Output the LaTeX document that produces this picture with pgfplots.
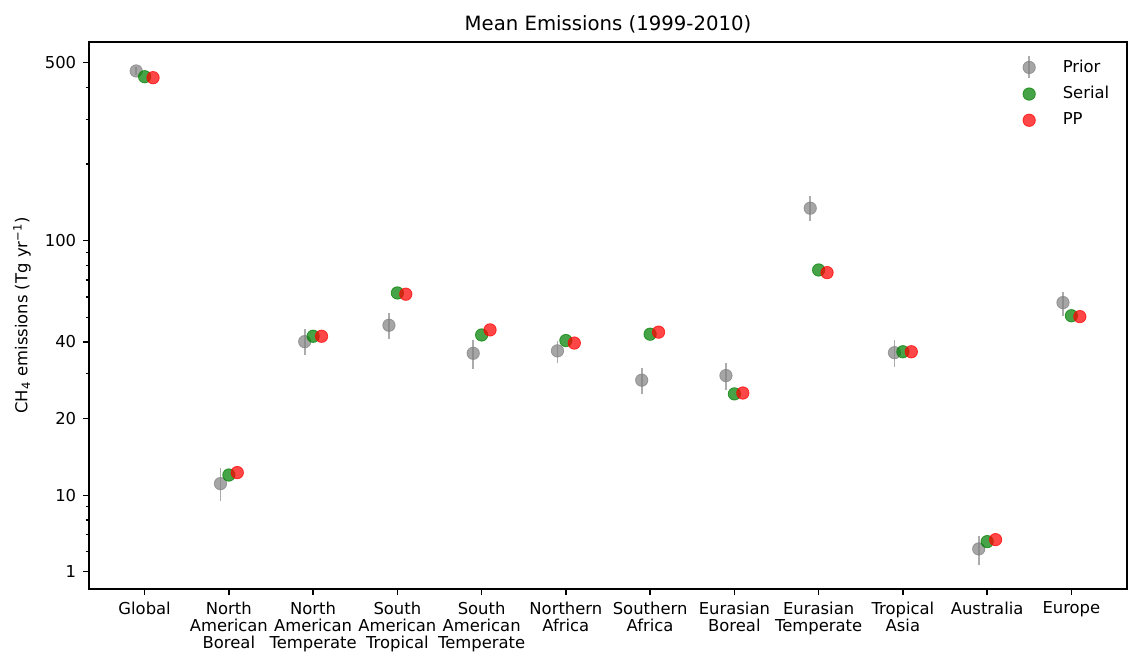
\documentclass[border=0pt]{standalone}
\usepackage{fontspec}
\setmainfont{DejaVu Sans}
\usepackage{pgfplots}
\pgfplotsset{compat=1.18}
\usepackage{pgfplotstable}
\definecolor{mplgray}{HTML}{808080}
\definecolor{mplgreen}{HTML}{008000}
\definecolor{mplred}{HTML}{FF0000}

\pgfplotstableread{
x y ep em
-0.1 464 15 15
0.9 11.1 1.66 1.6
1.9 40.1 4.8 4.5
2.9 46.5 5.6 5.5
3.9 36.1 4.6 4.8
4.9 36.9 3.5 3.9
5.9 28.3 3.2 3.3
6.9 29.5 3.7 3.7
7.9 134.1 15.7 14.6
8.9 36.3 4.4 4.5
9.9 6.15 0.79 0.83
10.9 57.1 5.9 6.5
}\prior

\pgfplotstableread{
x y
0 440.6
1 12.0
2 42.1
3 62.3
4 42.6
5 40.5
6 42.9
7 25.0
8 76.7
9 36.6
10 6.57
11 50.7
}\serial

\pgfplotstableread{
x y
0.1 436.7
1.1 12.27
2.1 42.1
3.1 61.6
4.1 44.6
5.1 39.6
6.1 43.7
7.1 25.2
8.1 74.9
9.1 36.6
10.1 6.69
11.1 50.3
}\pp

\begin{document}
\begin{tikzpicture}
\path[use as bounding box] (-44.5pt,-32.5pt) rectangle (520pt,294.5pt);
\begin{axis}[
  at={(0,0)}, anchor=south west,
  scale only axis, width=519pt, height=273.5pt,
  ymode=log,
  xmin=-0.66, xmax=11.66, ymin=4.28, ymax=603,
  xtick={0,...,11},
  xticklabels={{Global},{North\\American\\Boreal},{North\\American\\Temperate},{South\\American\\Tropical},{South\\American\\Temperate},{Northern\\Africa},{Southern\\Africa},{Eurasian\\Boreal},{Eurasian\\Temperate},{Tropical\\Asia},{Australia},{Europe}},
  xticklabel style={align=center, font=\fontsize{8.2}{8.5}\selectfont},
  ytick={5,10,20,40,100,500},
  yticklabels={1,10,20,40,100,500},
  minor ytick={6,7,8,9,30,50,60,70,80,90,200,300,400},
  yticklabel style={font=\fontsize{8.2}{9.8}\selectfont},
  /pgf/number format/assume math mode=true,
  tick align=outside,
  major tick length=2.9pt,
  minor tick length=1.65pt,
  xtick pos=left, ytick pos=left,
  axis line style={line width=0.66pt},
  every tick/.style={black, line width=0.66pt},
  title={Mean Emissions (1999-2010)},
  title style={font=\fontsize{9.84}{11}\selectfont, at={(axis description cs:0.5,1)}, anchor=base, yshift=-0.5pt},
  ylabel={CH\textsubscript{4} emissions (Tg yr\textsuperscript{−1})},
  ylabel style={font=\fontsize{8.2}{9.8}\selectfont, at={(axis description cs:0,0.5)}, anchor=center, yshift=33.5pt},
  legend cell align=left,
  legend style={draw=none, fill=none, inner sep=0pt, at={(rel axis cs:0.899,0.976)}, anchor=north west,
    font=\fontsize{8.2}{9.8}\selectfont, row sep=1.5pt,
    /tikz/every odd column/.append style={column sep=11.5pt}},
]
\addplot[only marks, mark=*, mark size=3.1pt, color=mplgray,
  mark options={fill=mplgray, draw=mplgray, fill opacity=0.7, draw opacity=0.7},
  legend image code/.code={
    \draw[mplgray, opacity=0.65, line width=0.9pt] (0.3cm,-5.5pt) -- (0.3cm,5.5pt);
    \fill[mplgray, opacity=0.7] (0.3cm,0pt) circle[radius=3.1pt];},
  error bars/.cd, y dir=both, y explicit, error mark=none,
  error bar style={line width=0.9pt, mplgray, opacity=0.65},
  ] table[x=x, y=y, y error plus=ep, y error minus=em]{\prior};
\addlegendentry{Prior}
\addplot[only marks, mark=*, mark size=3.1pt, color=mplgreen,
  mark options={fill=mplgreen, draw=mplgreen, fill opacity=0.72, draw opacity=0.72},
  ] table[x=x, y=y]{\serial};
\addlegendentry{Serial}
\addplot[only marks, mark=*, mark size=3.1pt, color=mplred,
  mark options={fill=mplred, draw=mplred, fill opacity=0.72, draw opacity=0.72},
  ] table[x=x, y=y]{\pp};
\addlegendentry{PP}
\end{axis}
\end{tikzpicture}
\end{document}
